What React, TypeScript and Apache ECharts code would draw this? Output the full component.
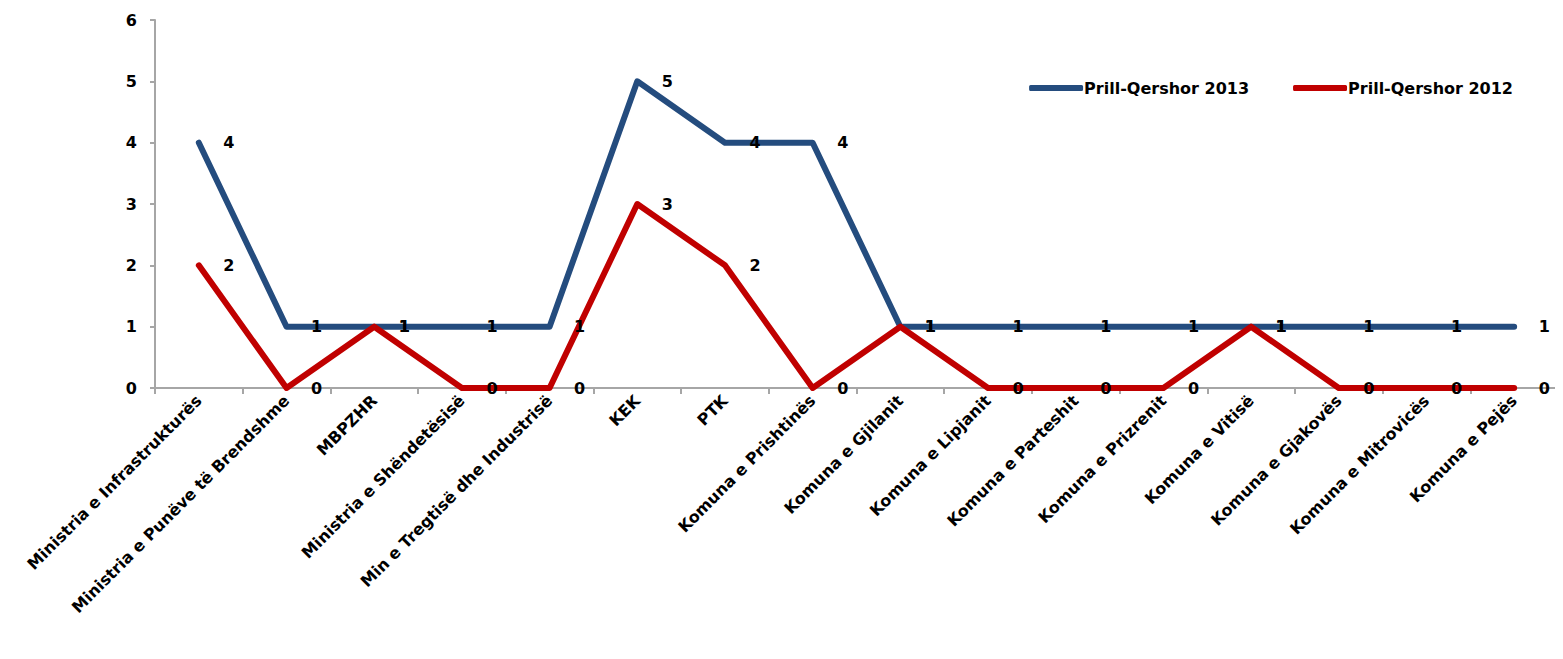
import React, { useEffect, useRef } from "react";
import * as echarts from "echarts";

const categories = [
  "Ministria e Infrastrukturës",
  "Ministria e Punëve të Brendshme",
  "MBPZHR",
  "Ministria e Shëndetësisë",
  "Min e Tregtisë dhe Industrisë",
  "KEK",
  "PTK",
  "Komuna e Prishtinës",
  "Komuna e Gjilanit",
  "Komuna e Lipjanit",
  "Komuna e Parteshit",
  "Komuna e Prizrenit",
  "Komuna e Vitisë",
  "Komuna e Gjakovës",
  "Komuna e Mitrovicës",
  "Komuna e Pejës",
];

const series2013 = [4, 1, 1, 1, 1, 5, 4, 4, 1, 1, 1, 1, 1, 1, 1, 1];
const series2012 = [2, 0, 1, 0, 0, 3, 2, 0, 1, 0, 0, 0, 1, 0, 0, 0];

const yTicks = { min: 0, max: 6, interval: 1 };

const FONT = "'DejaVu Sans', sans-serif";

export default function App() {
  const ref = useRef<HTMLDivElement>(null);
  useEffect(() => {
    if (!ref.current) return;
    const chart = echarts.init(ref.current, null, { renderer: "svg" });
    const mkSeries = (name: string, data: number[], color: string) => ({
      name,
      type: "line",
      data,
      symbol: "circle",
      symbolSize: 1,
      itemStyle: { color },
      lineStyle: { color, width: 6, cap: "round", join: "round" },
      label: {
        show: true,
        position: "right",
        distance: 24,
        color: "#000",
        fontWeight: "bold",
        fontSize: 16,
        fontFamily: FONT,
      },
      emphasis: { disabled: true },
    });
    chart.setOption({
      animation: false,
      grid: { left: 147, right: 0, top: 12, bottom: 263 },
      legend: {
        right: 40,
        top: 67,
        itemWidth: 54,
        itemHeight: 6,
        itemGap: 44,
        icon: "roundRect",
        textStyle: { fontFamily: FONT, fontWeight: "bold", fontSize: 16, color: "#000", padding: [0, 0, 0, -4] },
        data: ["Prill-Qershor 2013", "Prill-Qershor 2012"],
      },
      xAxis: {
        type: "category",
        data: categories,
        boundaryGap: true,
        axisLine: { lineStyle: { color: "#A6A6A6", width: 2 } },
        axisTick: { show: true, length: 6, lineStyle: { color: "#A6A6A6", width: 2 } },
        axisLabel: {
          interval: 0,
          rotate: 45,
          margin: 10,
          color: "#000",
          fontWeight: "bold",
          fontSize: 16,
          fontFamily: FONT,
        },
      },
      yAxis: {
        type: "value",
        min: yTicks.min,
        max: yTicks.max,
        interval: yTicks.interval,
        splitLine: { show: false },
        axisLine: { show: true, lineStyle: { color: "#A6A6A6", width: 2 } },
        axisTick: { show: true, length: 5, lineStyle: { color: "#A6A6A6", width: 2 } },
        axisLabel: {
          margin: 18,
          color: "#000",
          fontWeight: "bold",
          fontSize: 16,
          fontFamily: FONT,
        },
      },
      series: [
        mkSeries("Prill-Qershor 2013", series2013, "#244C7E"),
        mkSeries("Prill-Qershor 2012", series2012, "#C00000"),
      ],
    });
    return () => chart.dispose();
  }, []);
  return <div ref={ref} style={{ width: 1550, height: 643 }} />;
}
